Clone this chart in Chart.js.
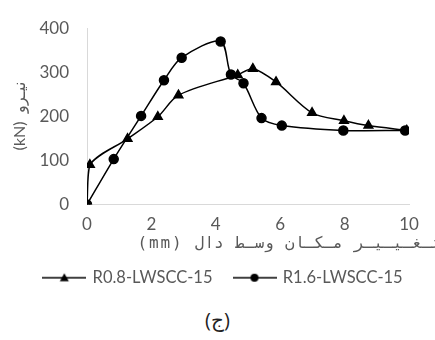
<!DOCTYPE html>
<html>
<head>
<meta charset="utf-8">
<script src="https://cdn.jsdelivr.net/npm/chart.js@4/dist/chart.umd.min.js"></script>
<style>
  html, body { margin: 0; padding: 0; background: #fff; }
  #wrap { position: relative; width: 435px; height: 340px; }
  #box { position: absolute; left: 0; top: 0; width: 435px; height: 300px; }
  #caption { position: absolute; left: 0; top: 306px; width: 435px; text-align: center;
             font: 20px "Open Sans", sans-serif; color: #222; }
</style>
</head>
<body>
<div id="wrap">
  <div id="box"><canvas id="chart"></canvas></div>
  <div id="caption">(ج)</div>
</div>
<script>
// ---- DATA ----
const xTicks = [0, 2, 4, 6, 8, 10];
const yTicks = [0, 100, 200, 300, 400];

const r08Label = "R0.8-LWSCC-15";
const r08X = [0, 0.09, 1.26, 2.2, 2.84, 4.68, 5.15, 5.87, 6.99, 7.98, 8.74, 9.93];
const r08Y = [0, 90, 149, 199, 248, 294, 308, 278, 208, 190, 179, 168];

const r16Label = "R1.6-LWSCC-15";
const r16X = [0, 0.83, 1.68, 2.39, 2.94, 4.15, 4.47, 4.86, 5.42, 6.05, 7.96, 9.88];
const r16Y = [0, 103, 201, 282, 333, 370, 295, 275, 196, 179, 168, 168];

const yTitle = "\u202Bنیـرو  (kN)\u202C";
const xTitle = "\u202Bتـغـیـیـر مـکـان وسـط دال (mm)\u202C";

const gray = "#595959";
const axisColor = "#d9d9d9";

// ---- LEGEND SYMBOLS (line + marker) ----
function legendIcon(style) {
  const c = document.createElement("canvas");
  c.width = 44; c.height = 12;
  const g = c.getContext("2d");
  g.strokeStyle = "#000"; g.lineWidth = 1.5;
  g.beginPath(); g.moveTo(0, 6); g.lineTo(44, 6); g.stroke();
  g.fillStyle = "#000";
  g.beginPath();
  if (style === "triangle") {
    g.moveTo(22, 1.5); g.lineTo(26.5, 9.5); g.lineTo(17.5, 9.5); g.closePath();
  } else {
    g.arc(22, 6, 4, 0, Math.PI * 2);
  }
  g.fill();
  return c;
}

function pairs(xs, ys) {
  return xs.map((x, i) => ({ x: x, y: ys[i] }));
}

// ---- X AXIS TITLE + legend nudge ----
const xTitlePlugin = {
  id: "xTitle",
  afterLayout(chart) {
    // centre the legend under the whole figure, not just the plot
    chart.legend.left += 19;
    chart.legend.right += 19;
  },
  afterDraw(chart) {
    const ctx = chart.ctx;
    const a = chart.chartArea;
    ctx.save();
    ctx.font = "16px 'DejaVu Sans Mono'";
    ctx.letterSpacing = "1.8px";
    ctx.fillStyle = gray;
    ctx.textAlign = "right";
    ctx.textBaseline = "middle";
    ctx.fillText(xTitle, a.right + 32, a.bottom + 39);
    ctx.restore();
  }
};

const chart = new Chart(document.getElementById("chart"), {
  type: "line",
  data: {
    datasets: [{
      label: r08Label,
      data: pairs(r08X, r08Y),
      borderColor: "#000",
      backgroundColor: "#000",
      borderWidth: 1.5,
      pointStyle: "triangle",
      pointRadius: 5,
      tension: 0.3,
      icon: legendIcon("triangle")
    }, {
      label: r16Label,
      data: pairs(r16X, r16Y),
      borderColor: "#000",
      backgroundColor: "#000",
      borderWidth: 1.5,
      pointStyle: "circle",
      pointRadius: 4.5,
      tension: 0.3,
      icon: legendIcon("circle")
    }]
  },
  options: {
    responsive: true,
    maintainAspectRatio: false,
    animation: false,
    layout: { padding: { top: 22, right: 26, bottom: 4, left: 0 } },
    plugins: {
      tooltip: { enabled: false },
      legend: {
        position: "bottom",
        labels: {
          usePointStyle: true,
          pointStyleWidth: 40,
          color: gray,
          padding: 22,
          font: { family: "Lato", size: 16.5 },
          generateLabels(ch) {
            return ch.data.datasets.map((d, i) => ({
              text: d.label,
              pointStyle: d.icon,
              fillStyle: "#000",
              strokeStyle: "#000",
              lineWidth: 0,
              fontColor: gray,
              datasetIndex: i
            }));
          }
        }
      }
    },
    scales: {
      x: {
        type: "linear",
        min: 0, max: 10,
        grid: { display: false, drawTicks: false },
        border: { display: true, color: axisColor, width: 1 },
        afterBuildTicks(s) { s.ticks = xTicks.map(v => ({ value: v })); },
        afterFit(s) { s.height = 43; },
        ticks: { color: gray, padding: 10, font: { family: "Lato", size: 17 } }
      },
      y: {
        min: 0, max: 400,
        grid: { display: false, drawTicks: false },
        border: { display: true, color: axisColor, width: 1 },
        afterBuildTicks(s) { s.ticks = yTicks.map(v => ({ value: v })); },
        afterFit(s) { s.width = 87; },
        ticks: { color: gray, padding: 18, font: { family: "Lato", size: 17 } },
        title: {
          display: true,
          text: yTitle,
          color: gray,
          padding: { top: 10, bottom: 0 },
          font: { family: "Lato", size: 16 }
        }
      }
    }
  },
  plugins: [xTitlePlugin]
});
</script>
</body>
</html>
